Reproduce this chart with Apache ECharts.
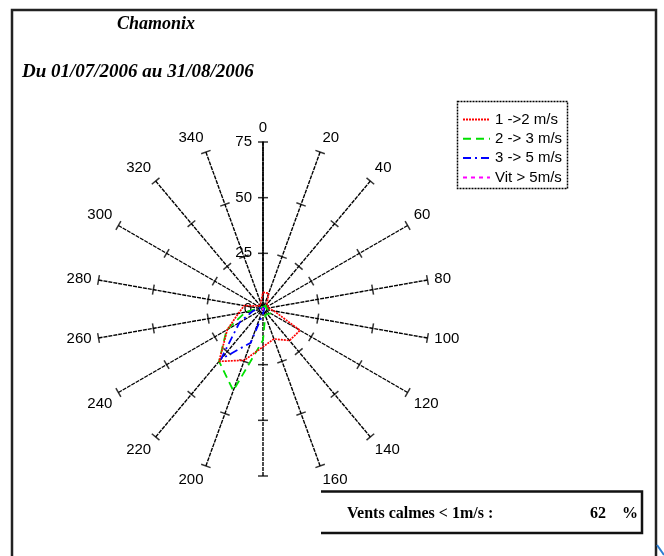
<!DOCTYPE html>
<html>
<head>
<meta charset="utf-8">
<script src="https://cdn.jsdelivr.net/npm/echarts@6/dist/echarts.min.js"></script>
<style>
html, body { margin: 0; padding: 0; background: #fff; }
#chart { width: 664px; height: 556px; }
</style>
</head>
<body>
<div id="chart"></div>
<script>
// directions (degrees, clockwise from north)
const directions = [0, 20, 40, 60, 80, 100, 120, 140, 160, 180, 200, 220, 240, 260, 280, 300, 320, 340];

// frequency (%) per direction and speed class
const speed1to2 = [7.5, 7.5, 2.8, 2.5, 2.5, 5, 19.2, 18.5, 14.3, 17, 24.5, 30.7, 18.5, 11.2, 8.6, 2.8, 2, 2];
const speed2to3 = [1, 1.5, 2, 2, 1.5, 3, 4, 3, 3, 14, 39, 30.7, 18.9, 8, 2, 1, 1, 1];
const speed3to5 = [1, 1, 1, 0.5, 0.5, 0.5, 0.5, 1, 1, 2, 16.1, 29.4, 12.2, 4.5, 1.5, 1, 1, 1];
const speedOver5 = [0.5, 0.5, 0.5, 0.3, 0.3, 0.3, 0.3, 0.3, 0.3, 0.5, 0.5, 0.5, 0.5, 0.5, 0.5, 0.8, 1, 0.8];

const seriesNames = ['1 ->2 m/s', '2 -> 3 m/s', '3 -> 5 m/s', 'Vit > 5m/s'];
const radiusTicks = [25, 50, 75];
const calmPercent = 62;

const chart = echarts.init(document.getElementById('chart'), null, { renderer: 'canvas' });

// polygon closed back onto the first direction
function ring(values) {
  const pts = directions.map((d, i) => [values[i], d]);
  pts.push([values[0], 360]);
  return pts;
}

// small cross marks on every spoke
const tickMarks = [];
directions.forEach(d => {
  radiusTicks.forEach(r => {
    tickMarks.push({ value: [r, d], symbolRotate: -d });
  });
});

const numFont = 'Liberation Sans, Arial, sans-serif';
const serif = 'Liberation Serif, Times New Roman, serif';

function ringSeries(name, values, color, type, width) {
  return {
    name,
    type: 'line',
    coordinateSystem: 'polar',
    data: ring(values),
    symbol: 'none',
    smooth: false,
    lineStyle: { color, type, width },
    itemStyle: { color },
    z: 5,
  };
}

chart.setOption({
  animation: false,
  backgroundColor: '#fff',
  title: [
    {
      text: 'Chamonix', left: 112, top: 10,
      textStyle: { fontFamily: serif, fontStyle: 'italic', fontWeight: 'bold', fontSize: 18, color: '#000' },
    },
    {
      text: 'Du 01/07/2006 au 31/08/2006', left: 17, top: 58,
      textStyle: { fontFamily: serif, fontStyle: 'italic', fontWeight: 'bold', fontSize: 19, color: '#000' },
    },
  ],
  legend: {
    orient: 'vertical',
    left: 462, top: 112,
    padding: 0,
    itemWidth: 27, itemHeight: 14, itemGap: 4.3,
    itemStyle: { opacity: 0 },
    textStyle: { fontFamily: numFont, fontSize: 15, color: '#000', lineHeight: 14 },
    data: seriesNames,
  },
  polar: { center: [263, 309], radius: 167 },
  angleAxis: {
    type: 'value', min: 0, max: 360, interval: 20,
    startAngle: 90, clockwise: true,
    axisLine: { show: false },
    axisTick: { show: false },
    axisLabel: {
      margin: 7, fontFamily: numFont, fontSize: 15, color: '#000',
      formatter: v => (v === 180 || v === 360) ? '' : String(v),
    },
    splitLine: { show: true, lineStyle: { color: '#000', type: [4, 1], width: 1.4 } },
  },
  radiusAxis: {
    min: 0, max: 75, interval: 25,
    axisLine: { show: true, lineStyle: { color: '#000', type: [3, 1], width: 1.6 } },
    axisTick: { show: false },
    axisLabel: { margin: 11, fontFamily: numFont, fontSize: 15, color: '#000' },
    splitLine: { show: false },
  },
  series: [
    {
      type: 'scatter', coordinateSystem: 'polar',
      data: tickMarks,
      symbol: 'rect', symbolSize: [10, 1.5],
      itemStyle: { color: '#000' },
      silent: true, z: 3,
    },
    ringSeries(seriesNames[1], speed2to3, '#00e000', [8, 5], 1.8),
    ringSeries(seriesNames[2], speed3to5, '#0000ff', [8, 4, 2, 4], 1.8),
    ringSeries(seriesNames[0], speed1to2, '#ff0000', [2, 1], 1.7),
    ringSeries(seriesNames[3], speedOver5, '#ff00ff', [4, 4], 1.8),
  ],
  graphic: [
    // page frame
    { type: 'polyline', shape: { points: [[12, 556], [12, 10], [656, 10], [656, 556]] },
      style: { stroke: '#222', lineWidth: 2.5, fill: null }, silent: true },
    // legend box
    { type: 'rect', shape: { x: 457.5, y: 101.5, width: 110, height: 87 },
      style: { stroke: '#000', lineWidth: 1.5, lineDash: [2, 1], fill: null }, silent: true },
    // calm winds box
    { type: 'polyline', shape: { points: [[321, 491.5], [642, 491.5], [642, 533], [321, 533]] },
      style: { stroke: '#111', lineWidth: 2.5, fill: null }, silent: true },
    { type: 'text', left: 347, top: 506,
      style: { text: 'Vents calmes < 1m/s :', font: 'bold 16px ' + serif, fill: '#000' } },
    { type: 'text', right: 58, top: 506,
      style: { text: String(calmPercent), font: 'bold 16px ' + serif, fill: '#000' } },
    { type: 'text', right: 26, top: 506,
      style: { text: '%', font: 'bold 16px ' + serif, fill: '#000' } },
    { type: 'line', shape: { x1: 657, y1: 545, x2: 664, y2: 555 },
      style: { stroke: '#2a7bd0', lineWidth: 2 }, silent: true },
  ],
});
</script>
</body>
</html>
